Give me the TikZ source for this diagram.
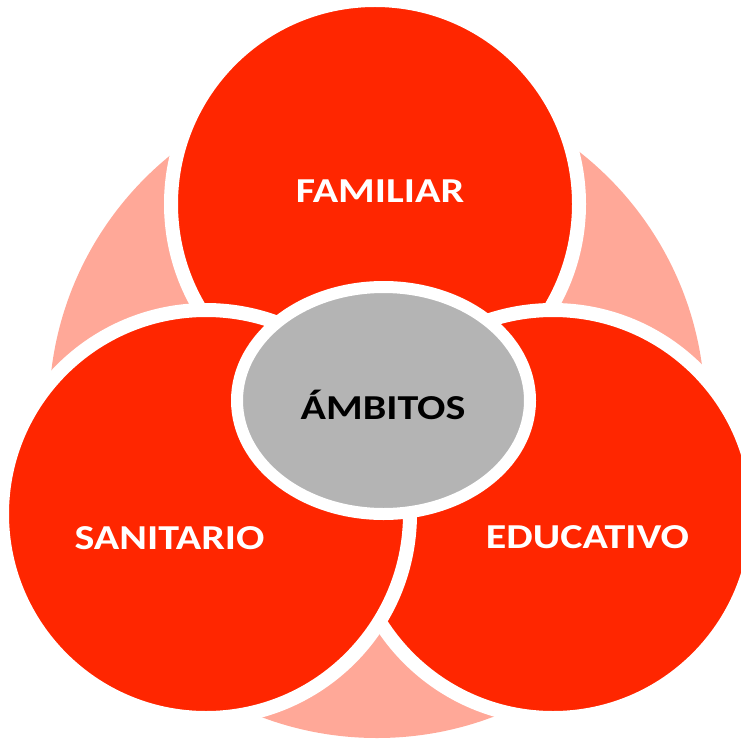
\documentclass[tikz,border=0pt]{standalone}
\usepackage{fontspec}
\setmainfont{Carlito}
\usetikzlibrary{shapes.geometric}
\definecolor{ambred}{RGB}{255,38,0}
\definecolor{ambpink}{RGB}{255,168,152}
\definecolor{ambgray}{RGB}{180,180,180}
\newcommand{\wide}[1]{\scalebox{1.2}[1]{#1}}

\begin{document}
\begin{tikzpicture}[x=1pt,y=-1pt,inner sep=0pt,
                    font=\fontsize{35}{40}\selectfont\bfseries]
  \tikzstyle{ring}=[circle,draw=white,line width=14pt,fill=ambred,minimum size=408pt]
  \tikzstyle{tag}=[text=white,anchor=base]
  \useasboundingbox (0,0) rectangle (740,751);

  \node[circle,fill=ambpink,minimum size=656pt] (P) at (377,410) {};
  \node[ring] (F) at (375,204) {};
  \node[ring] (E) at (553,514) {};
  \node[ring] (S) at (206,514) {};
  \node[ellipse,draw=white,line width=12pt,fill=ambgray,
        minimum width=293pt,minimum height=227pt] (C) at (383.5,400.5) {};

  \node[tag] (f) at (380,202.7) {\wide{FAMILIAR}};
  \node[tag] (s) at (169.5,549) {\wide{SANITARIO}};
  \node[tag] (e) at (587.5,548) {\wide{EDUCATIVO}};
  \node[tag,text=black] (c) at (383,419.3) {\wide{ÁMBITOS}};
\end{tikzpicture}
\end{document}
